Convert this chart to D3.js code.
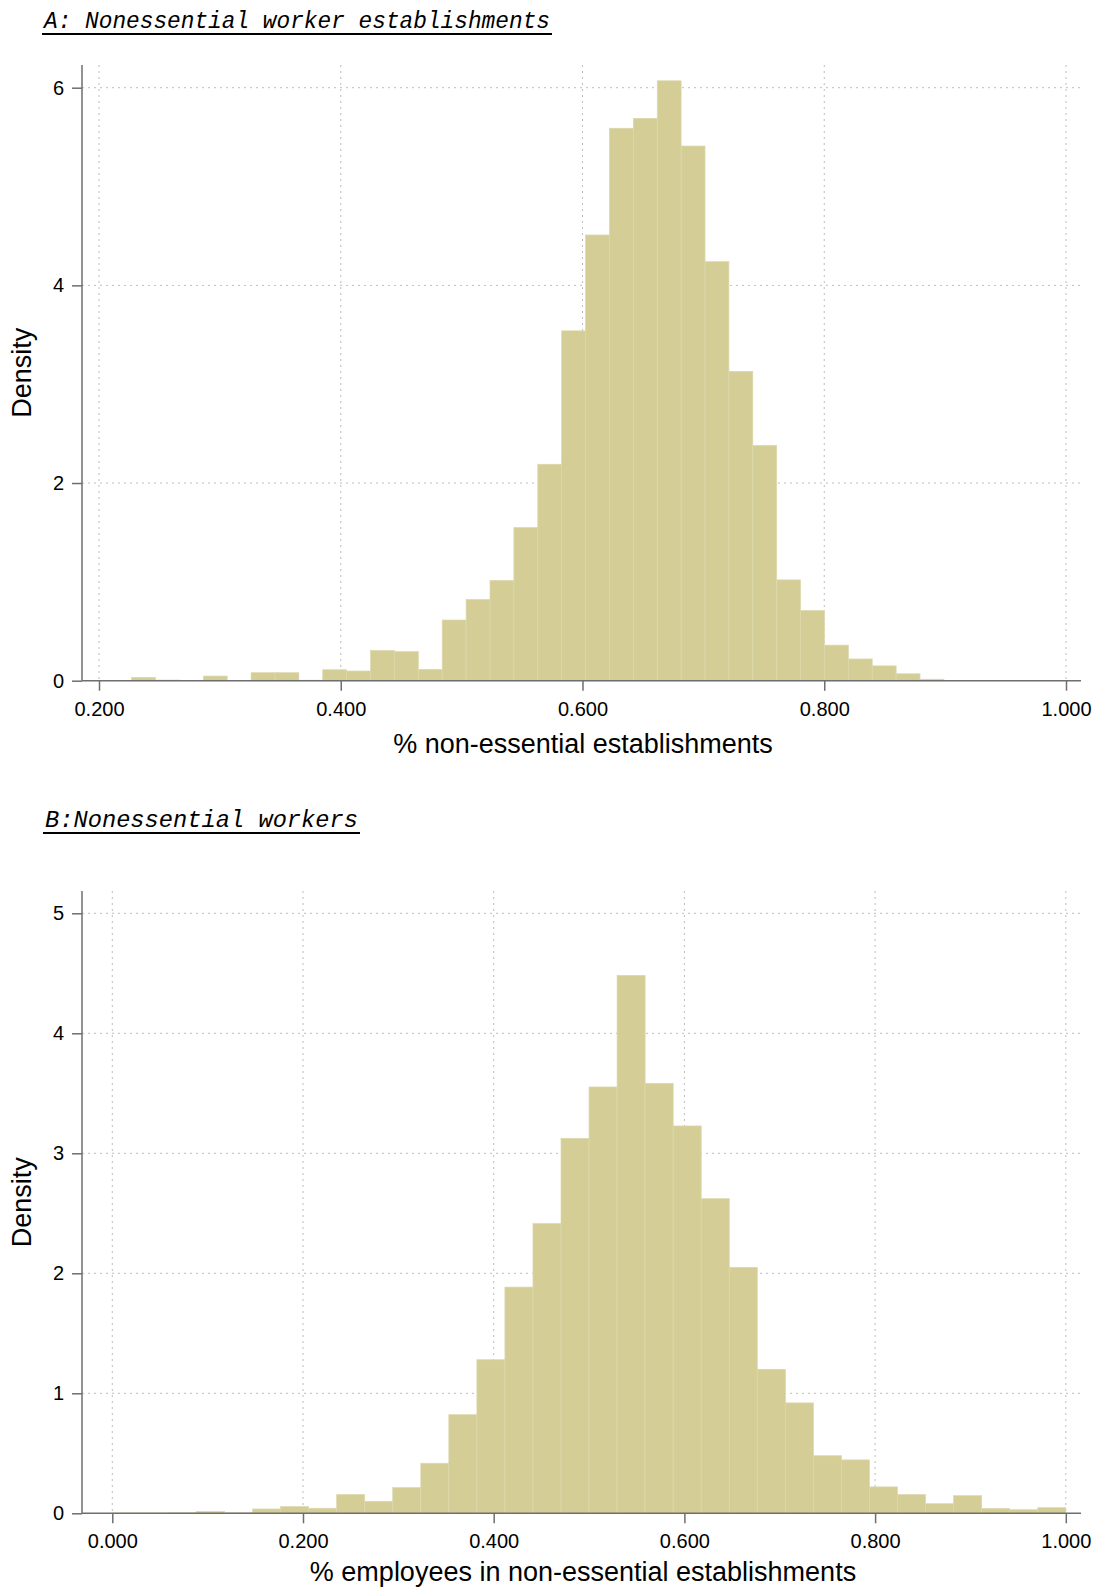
<!DOCTYPE html>
<html>
<head>
<meta charset="utf-8">
<script src="https://cdn.jsdelivr.net/npm/d3@7"></script>
<style>
    body { margin: 0; background: #fff; }
    .tick text { font-family: "Liberation Sans", Arial, sans-serif; font-size: 20px; fill: #000; }
</style>
</head>
<body>
<div id="chart"></div>
<script>
// histogram densities, 34 bins each
const densA = [0.034, 0.007, 0, 0.047, 0, 0.081, 0.081, 0.005, 0.111, 0.098, 0.307, 0.294,
    0.115, 0.614, 0.823, 1.015, 1.55, 2.19, 3.54, 4.51, 5.59, 5.69, 6.07, 5.41, 4.24, 3.13,
    2.38, 1.02, 0.71, 0.36, 0.22, 0.15, 0.07, 0.015];
const binRangeA = [0.227, 0.899];
const xTicksA = [0.2, 0.4, 0.6, 0.8, 1.0];
const yTicksA = [0, 2, 4, 6];

const densB = [0.002, 0.002, 0.004, 0.016, 0.004, 0.036, 0.056, 0.042, 0.156, 0.10, 0.214,
    0.417, 0.822, 1.28, 1.885, 2.415, 3.125, 3.553, 4.483, 3.583, 3.228, 2.622, 2.05, 1.2,
    0.92, 0.48, 0.445, 0.22, 0.156, 0.08, 0.147, 0.04, 0.03, 0.047];
const binRangeB = [0, 1];
const xTicksB = [0, 0.2, 0.4, 0.6, 0.8, 1.0];
const yTicksB = [0, 1, 2, 3, 4, 5];

const titleA = "A: Nonessential worker establishments";
const titleB = "B:Nonessential workers";
const xLabelA = "% non-essential establishments";
const xLabelB = "% employees in non-essential establishments";
const yLabel = "Density";

const barColor = "#d4ce96";
const axisColor = "#6e6e6e";
const gridColor = "#bdbdbd";

const svg = d3.select("#chart")
    .append("svg")
    .attr("width", 1096)
    .attr("height", 1589);

function panel(opt) {
    const g = svg.append("g");
    const left = 82, right = 1081;

    const x = d3.scaleLinear().domain(opt.xDomain).range(opt.xRange);
    const y = d3.scaleLinear().domain(opt.yDomain).range([opt.base, opt.yTop]);

    // title, underlined
    g.append("text")
        .attr("x", opt.titleX)
        .attr("y", opt.titleY)
        .attr("font-family", "Liberation Mono, Courier New, monospace")
        .attr("font-style", "italic")
        .attr("font-size", 23.6)
        .attr("textLength", opt.titleW)
        .attr("lengthAdjust", "spacingAndGlyphs")
        .text(opt.title);
    g.append("line")
        .attr("x1", opt.titleX - 2).attr("x2", opt.titleX + opt.titleW + 2)
        .attr("y1", opt.titleY + 6).attr("y2", opt.titleY + 6)
        .attr("stroke", "#000").attr("stroke-width", 2);

    // dotted grid
    g.selectAll(".hgrid").data(opt.yTicks.filter(d => d > 0)).enter()
        .append("line")
        .attr("x1", left).attr("x2", right)
        .attr("y1", d => y(d)).attr("y2", d => y(d))
        .attr("stroke", gridColor).attr("stroke-dasharray", "2,4");
    g.selectAll(".vgrid").data(opt.xTicks).enter()
        .append("line")
        .attr("x1", d => x(d)).attr("x2", d => x(d))
        .attr("y1", opt.axisTop).attr("y2", opt.base)
        .attr("stroke", gridColor).attr("stroke-dasharray", "2,4");

    // bars
    const n = opt.dens.length;
    const w = (opt.bins[1] - opt.bins[0]) / n;
    g.selectAll(".bar").data(opt.dens).enter()
        .append("rect")
        .attr("x", (d, i) => x(opt.bins[0] + i * w))
        .attr("width", (d, i) => x(opt.bins[0] + (i + 1) * w) - x(opt.bins[0] + i * w))
        .attr("y", d => y(d))
        .attr("height", d => opt.base - y(d))
        .attr("fill", barColor)
        .attr("stroke", "#dcd8ad")
        .attr("stroke-width", 0.7);

    // axes
    const yAxis = g.append("g")
        .attr("transform", `translate(${left},0)`)
        .call(d3.axisLeft(y).tickValues(opt.yTicks).tickFormat(d3.format("d"))
            .tickSize(10).tickPadding(8));
    const xAxis = g.append("g")
        .attr("transform", `translate(0,${opt.base})`)
        .call(d3.axisBottom(x).tickValues(opt.xTicks).tickFormat(d3.format(".3f"))
            .tickSize(10).tickPadding(11));
    [yAxis, xAxis].forEach(a => {
        a.select(".domain").remove();
        a.selectAll(".tick line").attr("stroke", axisColor).attr("stroke-width", 1.5);
    });

    g.append("line")
        .attr("x1", left).attr("x2", left)
        .attr("y1", opt.axisTop).attr("y2", opt.base)
        .attr("stroke", axisColor).attr("stroke-width", 1.5);
    g.append("line")
        .attr("x1", left).attr("x2", right)
        .attr("y1", opt.base).attr("y2", opt.base)
        .attr("stroke", axisColor).attr("stroke-width", 1.5);

    // axis titles
    g.append("text")
        .attr("x", 583)
        .attr("y", opt.base + opt.xLabelDy)
        .attr("text-anchor", "middle")
        .attr("font-family", "Liberation Sans, Arial, sans-serif")
        .attr("font-size", 27)
        .text(opt.xLabel);
    g.append("text")
        .attr("transform", `translate(31,${(opt.axisTop + opt.base) / 2}) rotate(-90)`)
        .attr("text-anchor", "middle")
        .attr("font-family", "Liberation Sans, Arial, sans-serif")
        .attr("font-size", 27)
        .text(yLabel);
}

panel({
    title: titleA, titleX: 44, titleY: 28, titleW: 506,
    dens: densA, bins: binRangeA,
    xDomain: [0.2, 1.0], xRange: [99, 1066],
    yDomain: [0, 6], base: 680.7, yTop: 87.7, axisTop: 65,
    xTicks: xTicksA, yTicks: yTicksA, xLabel: xLabelA, xLabelDy: 72
});

panel({
    title: titleB, titleX: 45, titleY: 827, titleW: 313,
    dens: densB, bins: binRangeB,
    xDomain: [0, 1], xRange: [112.3, 1065.8],
    yDomain: [0, 5], base: 1513.3, yTop: 913.3, axisTop: 891,
    xTicks: xTicksB, yTicks: yTicksB, xLabel: xLabelB, xLabelDy: 68
});
</script>
</body>
</html>
